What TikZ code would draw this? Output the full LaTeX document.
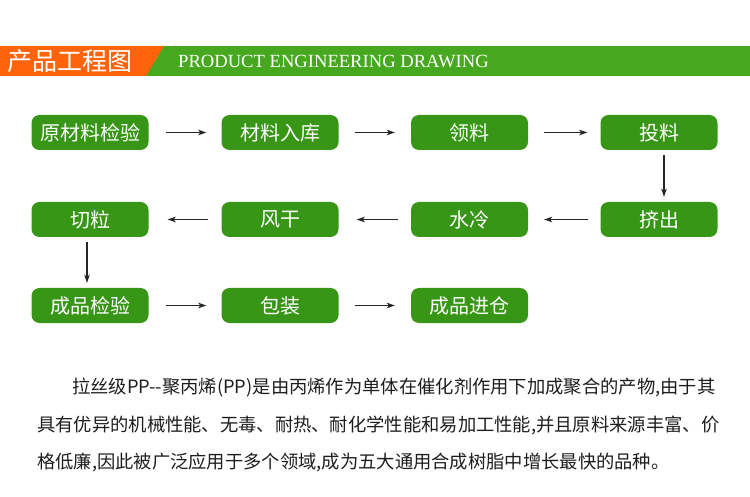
\documentclass[tikz,border=0pt]{standalone}
\usepackage{fontspec}
\setmainfont{Liberation Serif}
\newfontfamily\cjk{Noto Sans CJK SC}
\usetikzlibrary{arrows.meta}
\definecolor{boxgreen}{RGB}{56,150,22}
\definecolor{bargreen}{RGB}{70,168,30}
\definecolor{barorange}{RGB}{255,100,10}
\definecolor{txt}{RGB}{30,30,30}
\begin{document}
\begin{tikzpicture}[x=1pt,y=-1pt,
  stepbox/.style={fill=boxgreen, rounded corners=8pt, minimum width=117pt, minimum height=35pt,
    text=white, font=\cjk\fontsize{20}{20}\selectfont, inner sep=0pt},
  arr/.style={-{Stealth[length=8pt,width=5.5pt,inset=2pt]}, line width=1.1pt, draw=black!85},
  para/.style={anchor=west, inner sep=0pt, text=txt, font=\cjk\fontsize{18.3}{18.3}\selectfont}]
\useasboundingbox (0,0) rectangle (750,497);
\fill[white] (0,0) rectangle (750,497);
% header bar
\fill[bargreen] (140,46) rectangle (750,76);
\fill[barorange] (0,46) -- (164,46) -- (146,76) -- (0,76) -- cycle;
\node[anchor=west, text=white, font=\cjk\fontsize{25}{25}\selectfont, inner sep=0pt] (htitle) at (7,61) {产品工程图};
\node[anchor=west, text=white, font=\fontsize{18.6}{18.6}\selectfont, inner sep=0pt] (hsub) at (178,61.5) {PRODUCT ENGINEERING DRAWING};
% row 1
\node[stepbox] (b1) at (90,132.5) {原材料检验};
\node[stepbox] (b2) at (280,132.5) {材料入库};
\node[stepbox] (b3) at (469.5,132.5) {领料};
\node[stepbox] (b4) at (659,132.5) {投料};
% row 2
\node[stepbox] (c4) at (659,219.5) {挤出};
\node[stepbox] (c3) at (469.5,219.5) {水冷};
\node[stepbox] (c2) at (280,219.5) {风干};
\node[stepbox] (c1) at (90,219.5) {切粒};
% row 3
\node[stepbox] (d1) at (90,305.5) {成品检验};
\node[stepbox] (d2) at (280,305.5) {包装};
\node[stepbox] (d3) at (469.5,305.5) {成品进仓};
% arrows
\draw[arr] ([xshift=17pt]b1.east) -- ([xshift=-15pt]b2.west);
\draw[arr] ([xshift=16pt]b2.east) -- ([xshift=-16pt]b3.west);
\draw[arr] ([xshift=16pt]b3.east) -- ([xshift=-13pt]b4.west);
\draw[arr] ([xshift=5pt,yshift=-5pt]b4.south) -- ([xshift=5pt,yshift=5pt]c4.north);
\draw[arr] ([xshift=-12pt]c4.west) -- ([xshift=16pt]c3.east);
\draw[arr] ([xshift=-13pt]c3.west) -- ([xshift=18pt]c2.east);
\draw[arr] ([xshift=-13pt]c2.west) -- ([xshift=19pt]c1.east);
\draw[arr] ([xshift=-3pt,yshift=-5pt]c1.south) -- ([xshift=-3pt,yshift=5pt]d1.north);
\draw[arr] ([xshift=17pt]d1.east) -- ([xshift=-15pt]d2.west);
\draw[arr] ([xshift=16pt]d2.east) -- ([xshift=-16pt]d3.west);
% paragraph
\node[para] (p1) at (72,388) {拉丝级PP--聚丙烯(PP)是由丙烯作为单体在催化剂作用下加成聚合的产物,由于其};
\node[para] (p2) at (37,425) {具有优异的机械性能、无毒、耐热、耐化学性能和易加工性能,并且原料来源丰富、价};
\node[para] (p3) at (37,462) {格低廉,因此被广泛应用于多个领域,成为五大通用合成树脂中增长最快的品种。};
\end{tikzpicture}
\end{document}
